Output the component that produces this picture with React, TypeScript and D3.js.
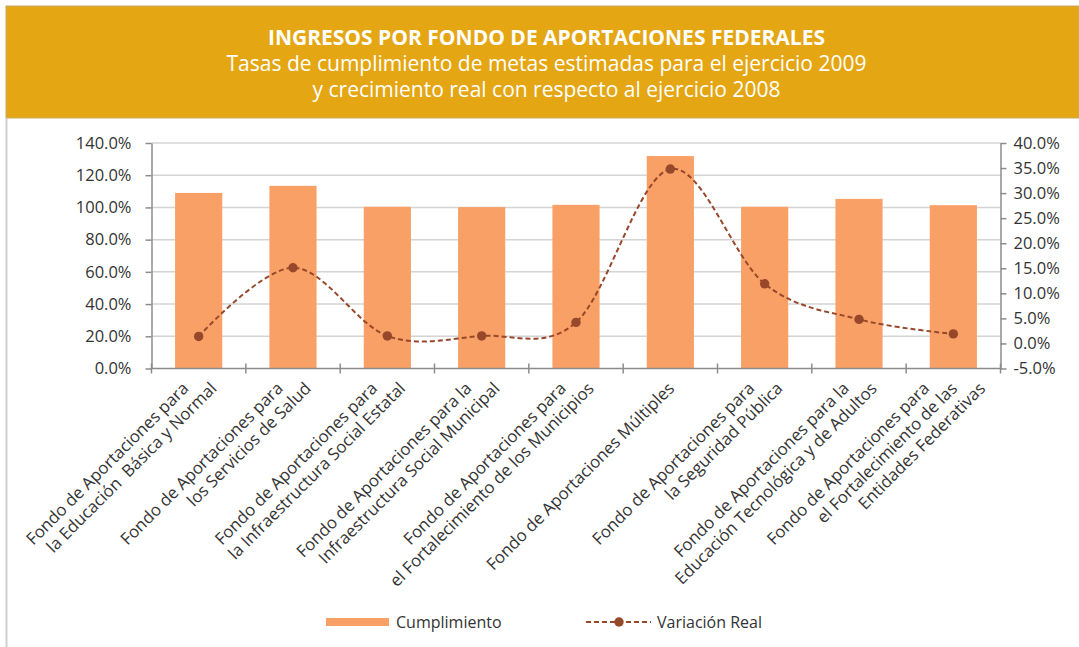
import { useEffect, useRef } from "react";
import * as d3 from "d3";

const categories: string[][] = [
  ["Fondo de Aportaciones para", "la Educación  Básica y Normal"],
  ["Fondo de Aportaciones para", "los Servicios de Salud"],
  ["Fondo de Aportaciones para", "la Infraestructura Social Estatal"],
  ["Fondo de Aportaciones para la", "Infraestructura Social Municipal"],
  ["Fondo de Aportaciones para", "el Fortalecimiento de los Municipios"],
  ["Fondo de Aportaciones Múltiples"],
  ["Fondo de Aportaciones para", "la Seguridad Pública"],
  ["Fondo de Aportaciones para la", "Educación Tecnológica y de Adultos"],
  ["Fondo de Aportaciones para", "el Fortalecimiento de las", "Entidades Federativas"],
];

const cumplimiento = [109.0, 113.4, 100.4, 100.2, 101.6, 131.9, 100.4, 105.3, 101.4];
const variacionReal = [1.4, 15.1, 1.5, 1.5, 4.2, 34.8, 11.9, 4.8, 1.9];

const leftTicks = [0, 20, 40, 60, 80, 100, 120, 140];
const rightTicks = [-5, 0, 5, 10, 15, 20, 25, 30, 35, 40];

const titleLines = [
  "INGRESOS POR FONDO DE APORTACIONES FEDERALES",
  "Tasas de cumplimiento de metas estimadas para el ejercicio 2009",
  "y crecimiento real con respecto al ejercicio 2008",
];
const legendLabels = ["Cumplimiento", "Variación Real"];

export default function App() {
  const ref = useRef<HTMLDivElement>(null);

  useEffect(() => {
    const W = 1079;
    const H = 647;
    const font = "'Open Sans', 'Noto Sans', sans-serif";
    const textColor = "#333";
    const axisColor = "#8c8c8c";
    const barColor = "#f9a066";
    const lineColor = "#98482a";

    const m = { left: 151.5, right: 1000.5, top: 143, bottom: 368.5 };

    const svg = d3
      .select(ref.current)
      .append("svg")
      .attr("width", W)
      .attr("height", H)
      .style("position", "absolute")
      .style("left", 0)
      .style("top", 0)
      .style("font-family", font);

    svg.append("rect").attr("width", W).attr("height", H).attr("fill", "#fff");

    // header band
    svg
      .append("rect")
      .attr("x", 6)
      .attr("y", 6)
      .attr("width", W - 6)
      .attr("height", 112)
      .attr("fill", "#e5a613")
      .attr("stroke", "#c9a86a")
      .attr("stroke-width", 1);

    svg
      .append("line")
      .attr("x1", 6.5)
      .attr("x2", 6.5)
      .attr("y1", 118)
      .attr("y2", H)
      .attr("stroke", "#cfcfcf")
      .attr("stroke-width", 2);

    const titleY = [45, 71, 97];
    titleLines.forEach((t, i) => {
      svg
        .append("text")
        .attr("x", 546.5)
        .attr("y", titleY[i])
        .attr("text-anchor", "middle")
        .attr("fill", "#fff")
        .attr("font-size", 21)
        .attr("font-weight", i === 0 ? 700 : 400)
        .text(t);
    });

    /* scales */
    const x = d3
      .scaleBand<number>()
      .domain(d3.range(categories.length))
      .range([m.left, m.right])
      .paddingInner(0.5)
      .paddingOuter(0.25);

    const band = d3
      .scaleBand<number>()
      .domain(d3.range(categories.length))
      .range([m.left, m.right]);

    const yL = d3.scaleLinear().domain([0, 140]).range([m.bottom, m.top]);
    const yR = d3.scaleLinear().domain([-5, 40]).range([m.bottom, m.top]);

    // gridlines
    svg
      .append("g")
      .selectAll("line")
      .data(leftTicks.filter((d) => d > 0))
      .enter()
      .append("line")
      .attr("x1", m.left)
      .attr("x2", m.right)
      .attr("y1", (d) => yL(d))
      .attr("y2", (d) => yL(d))
      .attr("stroke", "#d4d4d4")
      .attr("stroke-width", 1.5);

    // bars
    svg
      .append("g")
      .selectAll("rect")
      .data(cumplimiento)
      .enter()
      .append("rect")
      .attr("x", (_, i) => x(i)!)
      .attr("width", x.bandwidth())
      .attr("y", (d) => yL(d))
      .attr("height", (d) => m.bottom - yL(d))
      .attr("fill", barColor);

    // axes
    const styleAxis = (g: d3.Selection<SVGGElement, unknown, null, undefined>) => {
      g.select(".domain").attr("stroke", axisColor).attr("stroke-width", 1.5);
      g.selectAll(".tick line").attr("stroke", axisColor).attr("stroke-width", 1.5);
      g.selectAll(".tick text")
        .attr("fill", textColor)
        .attr("font-size", 16.5)
        .attr("font-family", font);
    };

    svg
      .append("g")
      .attr("transform", `translate(${m.left},0)`)
      .call(
        d3
          .axisLeft(yL)
          .tickValues(leftTicks)
          .tickSize(6)
          .tickSizeOuter(0)
          .tickPadding(14)
          .tickFormat((d) => `${(+d).toFixed(1)}%`)
      )
      .call(styleAxis);

    svg
      .append("g")
      .attr("transform", `translate(${m.right},0)`)
      .call(
        d3
          .axisRight(yR)
          .tickValues(rightTicks)
          .tickSize(6)
          .tickSizeOuter(0)
          .tickPadding(7)
          .tickFormat((d) => `${(+d).toFixed(1)}%`)
      )
      .call(styleAxis);

    // x axis with cross ticks at band boundaries
    const xg = svg.append("g");
    xg.append("line")
      .attr("x1", m.left)
      .attr("x2", m.right)
      .attr("y1", m.bottom)
      .attr("y2", m.bottom)
      .attr("stroke", axisColor)
      .attr("stroke-width", 1.5);
    xg.selectAll("line.tk")
      .data(d3.range(categories.length + 1))
      .enter()
      .append("line")
      .attr("class", "tk")
      .attr("x1", (i) => (i < categories.length ? band(i)! : m.right))
      .attr("x2", (i) => (i < categories.length ? band(i)! : m.right))
      .attr("y1", m.bottom - 5)
      .attr("y2", m.bottom + 5)
      .attr("stroke", axisColor)
      .attr("stroke-width", 1.5);

    // category labels: rotated -45, each line's end on the same row below the axis
    const fs = 16.8;
    const step = 28; // horizontal offset between line ends
    categories.forEach((lines, i) => {
      const cx = band(i)! + band.bandwidth() / 2;
      lines.forEach((t, j) => {
        const ex = cx + 5 + (j - (lines.length - 1) / 2) * step;
        svg
          .append("text")
          .attr("transform", `translate(${ex},${m.bottom + 21}) rotate(-45)`)
          .attr("text-anchor", "end")
          .attr("font-size", fs)
          .attr("fill", textColor)
          .style("white-space", "pre")
          .text(t);
      });
    });

    // smoothed dashed line on right axis
    const pts: [number, number][] = variacionReal.map((v, i) => [
      x(i)! + x.bandwidth() / 2,
      yR(v),
    ]);
    const line = d3.line().curve(d3.curveCatmullRom.alpha(0));
    svg
      .append("path")
      .attr("d", line(pts))
      .attr("fill", "none")
      .attr("stroke", lineColor)
      .attr("stroke-width", 2)
      .attr("stroke-dasharray", "5,3");

    svg
      .append("g")
      .selectAll("circle")
      .data(pts)
      .enter()
      .append("circle")
      .attr("cx", (d) => d[0])
      .attr("cy", (d) => d[1])
      .attr("r", 4.7)
      .attr("fill", lineColor);

    // legend
    const lg = svg.append("g").attr("font-size", 16).attr("fill", textColor);
    lg.append("rect")
      .attr("x", 326)
      .attr("y", 618)
      .attr("width", 63)
      .attr("height", 8)
      .attr("fill", barColor);
    lg.append("text").attr("x", 396).attr("y", 627.5).text(legendLabels[0]);
    lg.append("line")
      .attr("x1", 586)
      .attr("x2", 651)
      .attr("y1", 622)
      .attr("y2", 622)
      .attr("stroke", lineColor)
      .attr("stroke-width", 2)
      .attr("stroke-dasharray", "5,3");
    lg.append("circle").attr("cx", 619).attr("cy", 622).attr("r", 4.7).attr("fill", lineColor);
    lg.append("text").attr("x", 657).attr("y", 627.5).text(legendLabels[1]);

    return () => {
      d3.select(ref.current).selectAll("*").remove();
    };
  }, []);

  return <div ref={ref} />;
}
